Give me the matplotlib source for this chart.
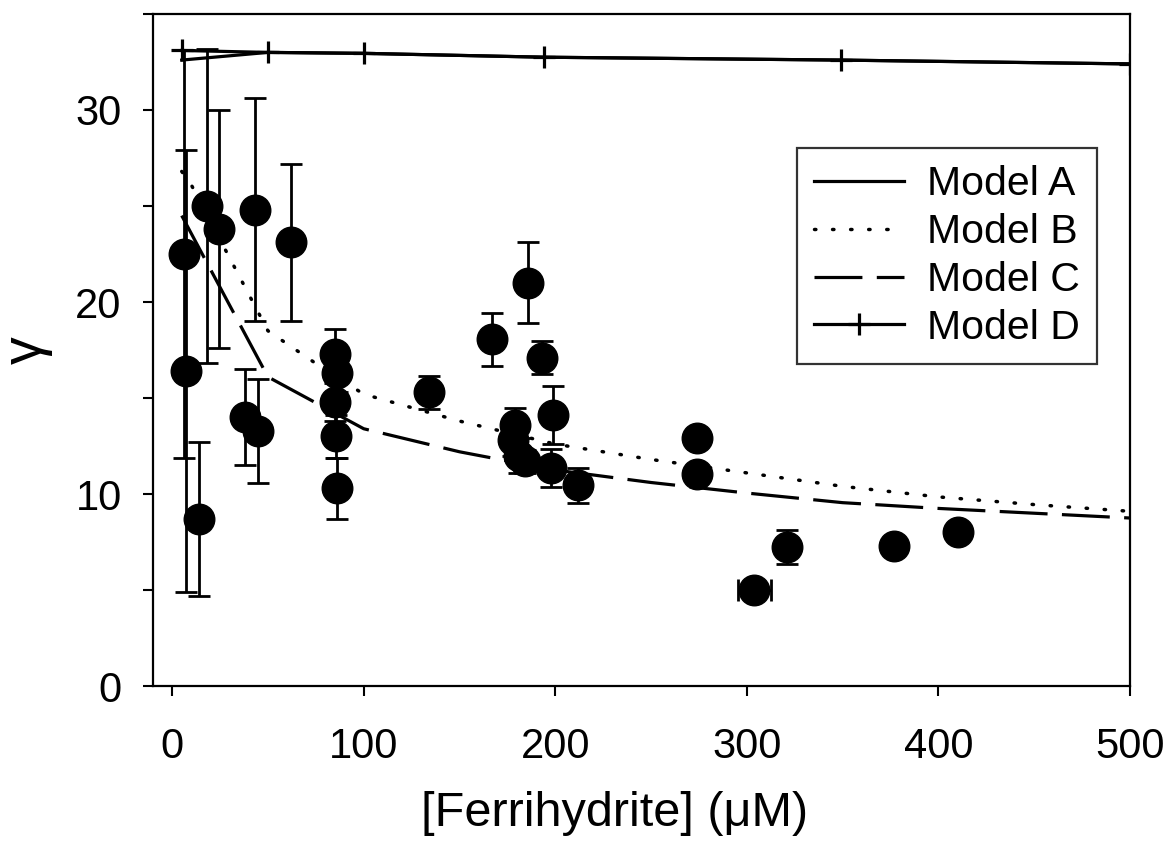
import numpy as np
import matplotlib
matplotlib.use("Agg")
import matplotlib.pyplot as plt

plt.rcParams['font.family'] = ['Liberation Sans', 'DejaVu Sans']

# Measured gamma vs ferrihydrite concentration
fe_conc = [6, 7, 18, 14, 24.5, 43, 38, 45, 62, 85, 86, 85, 85.5, 86,
           134, 167, 186, 193, 199, 179, 178, 181, 184, 198, 212,
           274, 274, 304, 321, 377, 410]
gamma = [22.5, 16.4, 25.0, 8.7, 23.8, 24.8, 14.0, 13.3, 23.1, 17.3, 16.3, 14.8, 13.0, 10.3,
         15.3, 18.05, 21.0, 17.1, 14.1, 13.6, 12.8, 12.0, 11.7, 11.35, 10.45,
         12.9, 11.05, 5.0, 7.25, 7.3, 8.0]
gamma_err = [10.6, 11.5, 8.2, 4.0, 6.2, 5.8, 2.5, 2.7, 4.1, 1.3, 1.0, 1.0, 1.1, 1.6,
             0.85, 1.4, 2.1, 0.85, 1.5, 0.9, 0.8, 0.9, 0.6, 1.0, 0.9,
             0, 0, 0, 0.9, 0, 0]
fe_err = [0, 0, 0, 0, 0, 0, 0, 0, 0, 0, 0, 0, 0, 0,
          0, 0, 0, 0, 0, 0, 0, 0, 0, 0, 0,
          0, 0, 8.6, 0, 0, 0]

# Model curves
model_ad_x = [5, 50, 100, 194, 349, 500]
model_a = [32.6, 33.0, 32.95, 32.75, 32.6, 32.4]
model_d = [33.1, 33.0, 32.95, 32.75, 32.6, 32.4]

model_b_x = [5, 10, 20, 30, 40, 50, 75, 100, 150, 200, 250, 300, 350, 400, 450, 500]
model_b = [26.8, 26.1, 24.2, 22.3, 20.4, 18.5, 16.8, 15.2, 13.8, 12.6, 11.8, 11.1, 10.4, 9.85, 9.45, 9.1]

model_c_x = [5, 50, 100, 150, 200, 250, 300, 350, 400, 450, 500]
model_c = [24.5, 16.1, 13.4, 12.2, 11.25, 10.6, 10.05, 9.55, 9.25, 9.0, 8.75]

x_ticks = [0, 100, 200, 300, 400, 500]
y_ticks = [0, 5, 10, 15, 20, 25, 30, 35]
y_labels = ['0', '', '10', '', '20', '', '30', '']

fig = plt.figure(figsize=(11.66, 8.43), dpi=100)
ax = fig.add_axes([0.1312, 0.1862, 0.8379, 0.7972])

lw = 2.3
ax.plot(model_ad_x, model_a, '-', color='black', lw=lw, label='Model A', zorder=2)
ax.plot(model_b_x, model_b, color='black', lw=2.5, linestyle=(0, (0.4, 4.8)),
        dash_capstyle='round', label='Model B', zorder=2)
ax.plot(model_c_x, model_c, color='black', lw=lw, linestyle=(0, (15, 4.5)),
        label='Model C', zorder=2)
ax.plot(model_ad_x, model_d, '-', color='black', lw=lw, marker='+', ms=16, mew=2.3,
        label='Model D', zorder=2)

fe = np.array(fe_conc, dtype=float)
g = np.array(gamma, dtype=float)
ge = np.array(gamma_err, dtype=float)
fx = np.array(fe_err, dtype=float)

m = ge > 0
ax.errorbar(fe[m], g[m], yerr=ge[m], fmt='none', ecolor='black', elinewidth=2.0,
            capsize=8, capthick=2.0, zorder=3)
mx = fx > 0
ax.errorbar(fe[mx], g[mx], xerr=fx[mx], fmt='none', ecolor='black', elinewidth=2.0,
            capsize=8, capthick=2.0, zorder=3)
ax.plot(fe, g, 'o', color='black', ms=22, zorder=4)

ax.set_xlim(-10, 500)
ax.set_ylim(0, 35)
ax.set_xticks(x_ticks)
ax.set_xticklabels([str(t) for t in x_ticks])
ax.set_yticks(y_ticks)
ax.set_yticklabels(y_labels)
ax.tick_params(axis='both', direction='out', length=7.5, width=1.5, labelsize=30, color='black')
ax.tick_params(axis='x', pad=22)
ax.tick_params(axis='y', pad=15)
for s in ax.spines.values():
    s.set_linewidth(1.6)
    s.set_color('black')

ax.set_xlabel('[Ferrihydrite] (\u03bcM)', fontsize=35)
ax.xaxis.set_label_coords(0.472, -0.156)
ax.set_ylabel('\u03b3', fontsize=40)
ax.yaxis.set_label_coords(-0.103, 0.5)

leg = ax.legend(loc='upper left', bbox_to_anchor=(0.659, 0.8006), fontsize=29.5,
                frameon=True, fancybox=False, edgecolor='black', handlelength=2.2,
                handletextpad=0.55, labelspacing=0.24, borderpad=0.42, numpoints=1,
                borderaxespad=0)
leg.get_frame().set_linewidth(1.6)

fig.savefig('out.png', dpi=100, facecolor='white')
